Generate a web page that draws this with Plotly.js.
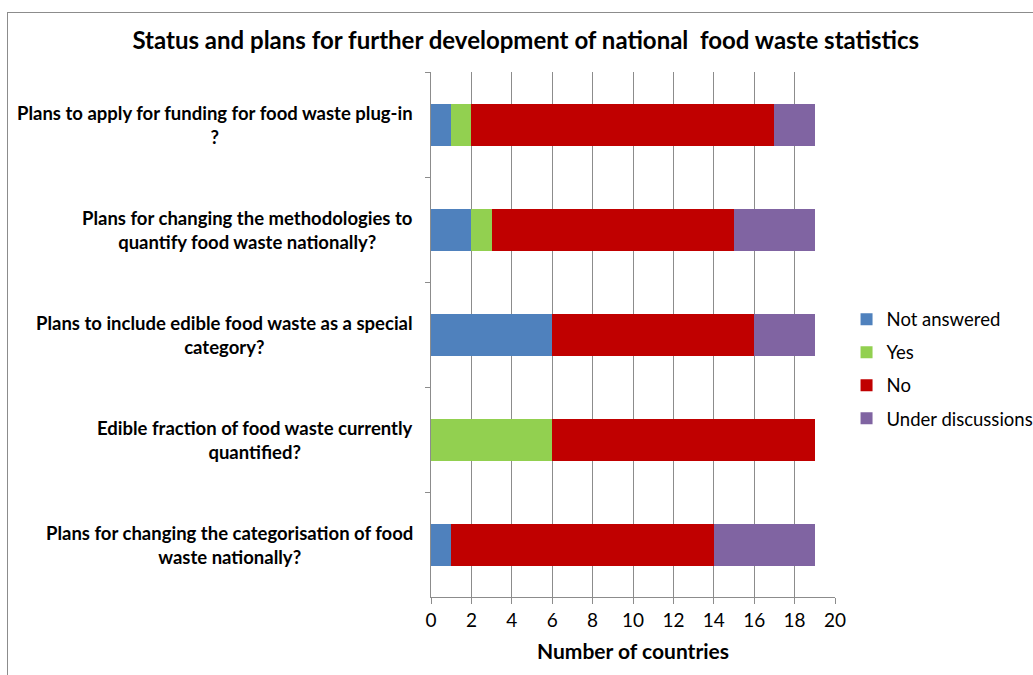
<!DOCTYPE html>
<html>
<head>
<meta charset="utf-8">
<script src="https://cdn.plot.ly/plotly-3.0.1.min.js"></script>
<style>
html,body{margin:0;padding:0;background:#fff;}
#chart{width:1033px;height:675px;position:absolute;left:0;top:0;}
#frame{position:absolute;left:7px;top:12px;width:1100px;height:800px;border-left:1.5px solid #8c8c8c;border-top:1.5px solid #8c8c8c;pointer-events:none;}
</style>
</head>
<body>
<div id="chart"></div>
<div id="frame"></div>
<script>
// Data (top-to-bottom order as shown)
const categories = [
  "Plans to apply for funding for food waste plug-in<br>?",
  "Plans for changing the methodologies to<br>quantify food waste nationally?",
  "Plans to include edible food waste as a special<br>category?",
  "Edible fraction of food waste currently<br>quantified?",
  "Plans for changing the categorisation of food<br>waste nationally?"
];
const notAnswered = [1, 2, 6, 0, 1];
const yes = [1, 1, 0, 6, 0];
const no = [15, 12, 10, 13, 13];
const underDiscussions = [2, 4, 3, 0, 5];
const seriesNames = ["Not answered", "Yes", "No", "Under discussions"];
const seriesColors = ["#4F81BD", "#92D050", "#C00000", "#8064A2"];
const xTicks = [0, 2, 4, 6, 8, 10, 12, 14, 16, 18, 20];

const FONT = "Lato, 'Open Sans', sans-serif";
const seriesValues = [notAnswered, yes, no, underDiscussions];
const traces = seriesValues.map((vals, i) => ({
  type: "bar",
  orientation: "h",
  name: seriesNames[i],
  x: vals,
  y: categories,
  marker: {color: seriesColors[i], line: {width: 0}},
  legendgroup: "g" + i,
  hoverinfo: "x+name"
}));

const annotations = categories.map(c => ({
  xref: "paper", yref: "y", x: 0, y: c,
  xanchor: "right", yanchor: "middle", align: "center",
  xshift: -16,
  text: "<b>" + c + "</b>",
  showarrow: false,
  font: {family: FONT, size: 18.5, color: "#000"}
}));

const layout = {
  width: 1033, height: 675,
  margin: {l: 431, r: 198, t: 72, b: 78, pad: 0, autoexpand: false},
  paper_bgcolor: "#fff", plot_bgcolor: "#fff",
  barmode: "stack",
  bargap: 0.6,
  font: {family: FONT, color: "#000"},
  title: {
    text: "<b>Status and plans for further development of national  food waste statistics</b>",
    font: {family: FONT, size: 24, color: "#000"},
    xref: "container", x: 0.509, xanchor: "center",
    yref: "container", y: 0.94, yanchor: "middle"
  },
  xaxis: {
    range: [0, 20],
    tickvals: xTicks,
    ticktext: xTicks.map(String),
    showgrid: true, gridcolor: "#8c8c8c", gridwidth: 1,
    showline: true, linecolor: "#8c8c8c", linewidth: 1,
    ticks: "outside", ticklen: 6, tickcolor: "#8c8c8c",
    tickfont: {family: FONT, size: 19, color: "#000"},
    zeroline: false,
    title: {text: "<b>Number of countries</b>", font: {family: FONT, size: 21, color: "#000"}, standoff: 14}
  },
  yaxis: {
    type: "category",
    autorange: "reversed",
    showticklabels: false,
    tickson: "boundaries",
    ticks: "outside", ticklen: 5, tickcolor: "#8c8c8c",
    showline: true, linecolor: "#8c8c8c", linewidth: 1,
    showgrid: false, zeroline: false
  },
  legend: {
    xref: "container", x: 0.8195, xanchor: "left",
    y: 0.434, yanchor: "middle",
    traceorder: "grouped", tracegroupgap: 6,
    font: {family: FONT, size: 18.5, color: "#000"},
    bgcolor: "rgba(0,0,0,0)"
  },
  annotations: annotations,
  showlegend: true
};

Plotly.newPlot("chart", traces, layout, {displayModeBar: false, staticPlot: true});
</script>
</body>
</html>
